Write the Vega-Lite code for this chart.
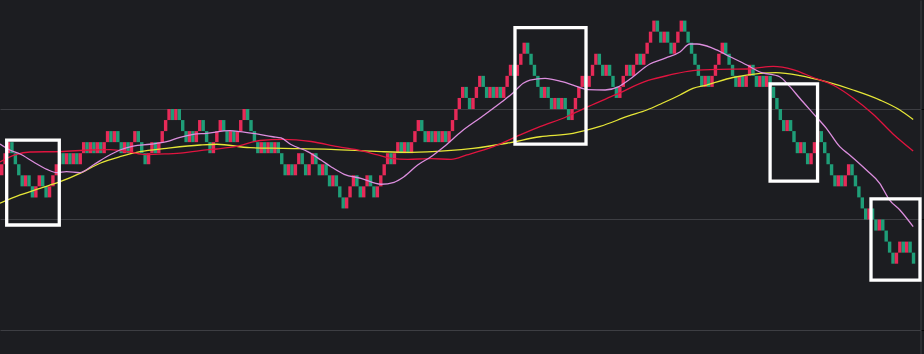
{
"$schema": "https://vega.github.io/schema/vega-lite/v6.json",
"width": 924, "height": 354, "autosize": {"type": "none"}, "padding": 0,
"background": "#1c1d21",
"config": {"view": {"stroke": null}},
"datasets": {
"bricks": [
{"i":0,"lo":14,"hi":15,"d":"R"},{"i":1,"lo":15,"hi":16,"d":"R"},{"i":2,"lo":16,"hi":17,"d":"R"},{"i":3,"lo":16,"hi":17,"d":"G"},{"i":4,"lo":15,"hi":16,"d":"G"},{"i":5,"lo":14,"hi":15,"d":"G"},{"i":6,"lo":13,"hi":14,"d":"G"},{"i":7,"lo":13,"hi":14,"d":"R"},{"i":8,"lo":13,"hi":14,"d":"G"},{"i":9,"lo":12,"hi":13,"d":"G"},
{"i":10,"lo":12,"hi":13,"d":"R"},{"i":11,"lo":13,"hi":14,"d":"R"},{"i":12,"lo":13,"hi":14,"d":"G"},{"i":13,"lo":12,"hi":13,"d":"G"},{"i":14,"lo":12,"hi":13,"d":"R"},{"i":15,"lo":13,"hi":14,"d":"R"},{"i":16,"lo":14,"hi":15,"d":"R"},{"i":17,"lo":15,"hi":16,"d":"R"},{"i":18,"lo":15,"hi":16,"d":"G"},{"i":19,"lo":15,"hi":16,"d":"R"},
{"i":20,"lo":15,"hi":16,"d":"G"},{"i":21,"lo":15,"hi":16,"d":"R"},{"i":22,"lo":15,"hi":16,"d":"G"},{"i":23,"lo":15,"hi":16,"d":"R"},{"i":24,"lo":16,"hi":17,"d":"R"},{"i":25,"lo":16,"hi":17,"d":"G"},{"i":26,"lo":16,"hi":17,"d":"R"},{"i":27,"lo":16,"hi":17,"d":"G"},{"i":28,"lo":16,"hi":17,"d":"R"},{"i":29,"lo":16,"hi":17,"d":"G"},
{"i":30,"lo":16,"hi":17,"d":"R"},{"i":31,"lo":17,"hi":18,"d":"R"},{"i":32,"lo":17,"hi":18,"d":"G"},{"i":33,"lo":17,"hi":18,"d":"R"},{"i":34,"lo":17,"hi":18,"d":"G"},{"i":35,"lo":16,"hi":17,"d":"G"},{"i":36,"lo":16,"hi":17,"d":"R"},{"i":37,"lo":16,"hi":17,"d":"G"},{"i":38,"lo":16,"hi":17,"d":"R"},{"i":39,"lo":17,"hi":18,"d":"R"},
{"i":40,"lo":17,"hi":18,"d":"G"},{"i":41,"lo":16,"hi":17,"d":"G"},{"i":42,"lo":15,"hi":16,"d":"G"},{"i":43,"lo":15,"hi":16,"d":"R"},{"i":44,"lo":16,"hi":17,"d":"R"},{"i":45,"lo":16,"hi":17,"d":"G"},{"i":46,"lo":16,"hi":17,"d":"R"},{"i":47,"lo":17,"hi":18,"d":"R"},{"i":48,"lo":18,"hi":19,"d":"R"},{"i":49,"lo":19,"hi":20,"d":"R"},
{"i":50,"lo":19,"hi":20,"d":"G"},{"i":51,"lo":19,"hi":20,"d":"R"},{"i":52,"lo":19,"hi":20,"d":"G"},{"i":53,"lo":18,"hi":19,"d":"G"},{"i":54,"lo":17,"hi":18,"d":"G"},{"i":55,"lo":17,"hi":18,"d":"R"},{"i":56,"lo":17,"hi":18,"d":"G"},{"i":57,"lo":17,"hi":18,"d":"R"},{"i":58,"lo":18,"hi":19,"d":"R"},{"i":59,"lo":18,"hi":19,"d":"G"},
{"i":60,"lo":17,"hi":18,"d":"G"},{"i":61,"lo":16,"hi":17,"d":"G"},{"i":62,"lo":16,"hi":17,"d":"R"},{"i":63,"lo":17,"hi":18,"d":"R"},{"i":64,"lo":18,"hi":19,"d":"R"},{"i":65,"lo":18,"hi":19,"d":"G"},{"i":66,"lo":17,"hi":18,"d":"G"},{"i":67,"lo":17,"hi":18,"d":"R"},{"i":68,"lo":17,"hi":18,"d":"G"},{"i":69,"lo":17,"hi":18,"d":"R"},
{"i":70,"lo":18,"hi":19,"d":"R"},{"i":71,"lo":19,"hi":20,"d":"R"},{"i":72,"lo":19,"hi":20,"d":"G"},{"i":73,"lo":18,"hi":19,"d":"G"},{"i":74,"lo":17,"hi":18,"d":"G"},{"i":75,"lo":16,"hi":17,"d":"G"},{"i":76,"lo":16,"hi":17,"d":"R"},{"i":77,"lo":16,"hi":17,"d":"G"},{"i":78,"lo":16,"hi":17,"d":"R"},{"i":79,"lo":16,"hi":17,"d":"G"},
{"i":80,"lo":16,"hi":17,"d":"R"},{"i":81,"lo":16,"hi":17,"d":"G"},{"i":82,"lo":15,"hi":16,"d":"G"},{"i":83,"lo":14,"hi":15,"d":"G"},{"i":84,"lo":14,"hi":15,"d":"R"},{"i":85,"lo":14,"hi":15,"d":"G"},{"i":86,"lo":14,"hi":15,"d":"R"},{"i":87,"lo":15,"hi":16,"d":"R"},{"i":88,"lo":15,"hi":16,"d":"G"},{"i":89,"lo":14,"hi":15,"d":"G"},
{"i":90,"lo":14,"hi":15,"d":"R"},{"i":91,"lo":15,"hi":16,"d":"R"},{"i":92,"lo":15,"hi":16,"d":"G"},{"i":93,"lo":14,"hi":15,"d":"G"},{"i":94,"lo":14,"hi":15,"d":"R"},{"i":95,"lo":14,"hi":15,"d":"G"},{"i":96,"lo":13,"hi":14,"d":"G"},{"i":97,"lo":13,"hi":14,"d":"R"},{"i":98,"lo":13,"hi":14,"d":"G"},{"i":99,"lo":12,"hi":13,"d":"G"},
{"i":100,"lo":11,"hi":12,"d":"G"},{"i":101,"lo":11,"hi":12,"d":"R"},{"i":102,"lo":12,"hi":13,"d":"R"},{"i":103,"lo":13,"hi":14,"d":"R"},{"i":104,"lo":13,"hi":14,"d":"G"},{"i":105,"lo":12,"hi":13,"d":"G"},{"i":106,"lo":12,"hi":13,"d":"R"},{"i":107,"lo":13,"hi":14,"d":"R"},{"i":108,"lo":13,"hi":14,"d":"G"},{"i":109,"lo":12,"hi":13,"d":"G"},
{"i":110,"lo":12,"hi":13,"d":"R"},{"i":111,"lo":13,"hi":14,"d":"R"},{"i":112,"lo":14,"hi":15,"d":"R"},{"i":113,"lo":15,"hi":16,"d":"R"},{"i":114,"lo":15,"hi":16,"d":"G"},{"i":115,"lo":15,"hi":16,"d":"R"},{"i":116,"lo":16,"hi":17,"d":"R"},{"i":117,"lo":16,"hi":17,"d":"G"},{"i":118,"lo":16,"hi":17,"d":"R"},{"i":119,"lo":16,"hi":17,"d":"G"},
{"i":120,"lo":16,"hi":17,"d":"R"},{"i":121,"lo":17,"hi":18,"d":"R"},{"i":122,"lo":18,"hi":19,"d":"R"},{"i":123,"lo":18,"hi":19,"d":"G"},{"i":124,"lo":17,"hi":18,"d":"G"},{"i":125,"lo":17,"hi":18,"d":"R"},{"i":126,"lo":17,"hi":18,"d":"G"},{"i":127,"lo":17,"hi":18,"d":"R"},{"i":128,"lo":17,"hi":18,"d":"G"},{"i":129,"lo":17,"hi":18,"d":"R"},
{"i":130,"lo":17,"hi":18,"d":"G"},{"i":131,"lo":17,"hi":18,"d":"R"},{"i":132,"lo":18,"hi":19,"d":"R"},{"i":133,"lo":19,"hi":20,"d":"R"},{"i":134,"lo":20,"hi":21,"d":"R"},{"i":135,"lo":21,"hi":22,"d":"R"},{"i":136,"lo":21,"hi":22,"d":"G"},{"i":137,"lo":20,"hi":21,"d":"G"},{"i":138,"lo":20,"hi":21,"d":"R"},{"i":139,"lo":21,"hi":22,"d":"R"},
{"i":140,"lo":22,"hi":23,"d":"R"},{"i":141,"lo":22,"hi":23,"d":"G"},{"i":142,"lo":21,"hi":22,"d":"G"},{"i":143,"lo":21,"hi":22,"d":"R"},{"i":144,"lo":21,"hi":22,"d":"G"},{"i":145,"lo":21,"hi":22,"d":"R"},{"i":146,"lo":21,"hi":22,"d":"G"},{"i":147,"lo":21,"hi":22,"d":"R"},{"i":148,"lo":22,"hi":23,"d":"R"},{"i":149,"lo":23,"hi":24,"d":"R"},
{"i":150,"lo":23,"hi":24,"d":"G"},{"i":151,"lo":23,"hi":24,"d":"R"},{"i":152,"lo":24,"hi":25,"d":"R"},{"i":153,"lo":25,"hi":26,"d":"R"},{"i":154,"lo":25,"hi":26,"d":"G"},{"i":155,"lo":24,"hi":25,"d":"G"},{"i":156,"lo":23,"hi":24,"d":"G"},{"i":157,"lo":22,"hi":23,"d":"G"},{"i":158,"lo":21,"hi":22,"d":"G"},{"i":159,"lo":21,"hi":22,"d":"R"},
{"i":160,"lo":21,"hi":22,"d":"G"},{"i":161,"lo":20,"hi":21,"d":"G"},{"i":162,"lo":20,"hi":21,"d":"R"},{"i":163,"lo":20,"hi":21,"d":"G"},{"i":164,"lo":20,"hi":21,"d":"R"},{"i":165,"lo":20,"hi":21,"d":"G"},{"i":166,"lo":19,"hi":20,"d":"G"},{"i":167,"lo":19,"hi":20,"d":"R"},{"i":168,"lo":20,"hi":21,"d":"R"},{"i":169,"lo":21,"hi":22,"d":"R"},
{"i":170,"lo":22,"hi":23,"d":"R"},{"i":171,"lo":22,"hi":23,"d":"G"},{"i":172,"lo":22,"hi":23,"d":"R"},{"i":173,"lo":23,"hi":24,"d":"R"},{"i":174,"lo":24,"hi":25,"d":"R"},{"i":175,"lo":24,"hi":25,"d":"G"},{"i":176,"lo":23,"hi":24,"d":"G"},{"i":177,"lo":23,"hi":24,"d":"R"},{"i":178,"lo":23,"hi":24,"d":"G"},{"i":179,"lo":22,"hi":23,"d":"G"},
{"i":180,"lo":21,"hi":22,"d":"G"},{"i":181,"lo":21,"hi":22,"d":"R"},{"i":182,"lo":22,"hi":23,"d":"R"},{"i":183,"lo":23,"hi":24,"d":"R"},{"i":184,"lo":23,"hi":24,"d":"G"},{"i":185,"lo":23,"hi":24,"d":"R"},{"i":186,"lo":24,"hi":25,"d":"R"},{"i":187,"lo":24,"hi":25,"d":"G"},{"i":188,"lo":24,"hi":25,"d":"R"},{"i":189,"lo":25,"hi":26,"d":"R"},
{"i":190,"lo":26,"hi":27,"d":"R"},{"i":191,"lo":27,"hi":28,"d":"R"},{"i":192,"lo":27,"hi":28,"d":"G"},{"i":193,"lo":26,"hi":27,"d":"G"},{"i":194,"lo":26,"hi":27,"d":"R"},{"i":195,"lo":26,"hi":27,"d":"G"},{"i":196,"lo":25,"hi":26,"d":"G"},{"i":197,"lo":25,"hi":26,"d":"R"},{"i":198,"lo":26,"hi":27,"d":"R"},{"i":199,"lo":27,"hi":28,"d":"R"},
{"i":200,"lo":27,"hi":28,"d":"G"},{"i":201,"lo":26,"hi":27,"d":"G"},{"i":202,"lo":25,"hi":26,"d":"G"},{"i":203,"lo":24,"hi":25,"d":"G"},{"i":204,"lo":23,"hi":24,"d":"G"},{"i":205,"lo":22,"hi":23,"d":"G"},{"i":206,"lo":22,"hi":23,"d":"R"},{"i":207,"lo":22,"hi":23,"d":"G"},{"i":208,"lo":22,"hi":23,"d":"R"},{"i":209,"lo":23,"hi":24,"d":"R"},
{"i":210,"lo":24,"hi":25,"d":"R"},{"i":211,"lo":25,"hi":26,"d":"R"},{"i":212,"lo":25,"hi":26,"d":"G"},{"i":213,"lo":24,"hi":25,"d":"G"},{"i":214,"lo":23,"hi":24,"d":"G"},{"i":215,"lo":22,"hi":23,"d":"G"},{"i":216,"lo":22,"hi":23,"d":"R"},{"i":217,"lo":22,"hi":23,"d":"G"},{"i":218,"lo":22,"hi":23,"d":"R"},{"i":219,"lo":23,"hi":24,"d":"R"},
{"i":220,"lo":23,"hi":24,"d":"G"},{"i":221,"lo":22,"hi":23,"d":"G"},{"i":222,"lo":22,"hi":23,"d":"R"},{"i":223,"lo":22,"hi":23,"d":"G"},{"i":224,"lo":22,"hi":23,"d":"R"},{"i":225,"lo":22,"hi":23,"d":"G"},{"i":226,"lo":21,"hi":22,"d":"G"},{"i":227,"lo":20,"hi":21,"d":"G"},{"i":228,"lo":19,"hi":20,"d":"G"},{"i":229,"lo":18,"hi":19,"d":"G"},
{"i":230,"lo":18,"hi":19,"d":"R"},{"i":231,"lo":18,"hi":19,"d":"G"},{"i":232,"lo":17,"hi":18,"d":"G"},{"i":233,"lo":16,"hi":17,"d":"G"},{"i":234,"lo":16,"hi":17,"d":"R"},{"i":235,"lo":16,"hi":17,"d":"G"},{"i":236,"lo":15,"hi":16,"d":"G"},{"i":237,"lo":15,"hi":16,"d":"R"},{"i":238,"lo":16,"hi":17,"d":"R"},{"i":239,"lo":17,"hi":18,"d":"R"},
{"i":240,"lo":17,"hi":18,"d":"G"},{"i":241,"lo":16,"hi":17,"d":"G"},{"i":242,"lo":15,"hi":16,"d":"G"},{"i":243,"lo":14,"hi":15,"d":"G"},{"i":244,"lo":13,"hi":14,"d":"G"},{"i":245,"lo":13,"hi":14,"d":"R"},{"i":246,"lo":13,"hi":14,"d":"G"},{"i":247,"lo":13,"hi":14,"d":"R"},{"i":248,"lo":14,"hi":15,"d":"R"},{"i":249,"lo":14,"hi":15,"d":"G"},
{"i":250,"lo":13,"hi":14,"d":"G"},{"i":251,"lo":12,"hi":13,"d":"G"},{"i":252,"lo":11,"hi":12,"d":"G"},{"i":253,"lo":10,"hi":11,"d":"G"},{"i":254,"lo":10,"hi":11,"d":"R"},{"i":255,"lo":10,"hi":11,"d":"G"},{"i":256,"lo":9,"hi":10,"d":"G"},{"i":257,"lo":9,"hi":10,"d":"R"},{"i":258,"lo":9,"hi":10,"d":"G"},{"i":259,"lo":8,"hi":9,"d":"G"},
{"i":260,"lo":7,"hi":8,"d":"G"},{"i":261,"lo":6,"hi":7,"d":"G"},{"i":262,"lo":6,"hi":7,"d":"R"},{"i":263,"lo":7,"hi":8,"d":"R"},{"i":264,"lo":7,"hi":8,"d":"G"},{"i":265,"lo":7,"hi":8,"d":"R"},{"i":266,"lo":7,"hi":8,"d":"G"},{"i":267,"lo":6,"hi":7,"d":"G"}
],
"ma": [
{"s":"y","i":-0.5,"v":11.47},{"s":"y","i":5.4,"v":12.22},{"s":"y","i":11.2,"v":12.82},{"s":"y","i":17.1,"v":13.42},{"s":"y","i":22.9,"v":14.18},{"s":"y","i":28.8,"v":15.09},{"s":"y","i":34.6,"v":15.68},{"s":"y","i":40.5,"v":16.14},{"s":"y","i":48.3,"v":16.44},{"s":"y","i":58.1,"v":16.74},{"s":"y","i":63.0,"v":16.81},{"s":"y","i":72.7,"v":16.5},{"s":"y","i":82.4,"v":16.44},{"s":"y","i":96.4,"v":16.35},{"s":"y","i":111.1,"v":16.14},{"s":"y","i":119.9,"v":16.08},{"s":"y","i":130.6,"v":16.23},{"s":"y","i":138.0,"v":16.44},{"s":"y","i":147.9,"v":16.9},{"s":"y","i":157.6,"v":17.49},{"s":"y","i":167.3,"v":17.8},{"s":"y","i":175.2,"v":18.42},{"s":"y","i":183.6,"v":19.37},{"s":"y","i":188.9,"v":19.91},{"s":"y","i":193.4,"v":20.52},{"s":"y","i":198.6,"v":21.27},{"s":"y","i":202.4,"v":21.87},{"s":"y","i":206.4,"v":22.17},{"s":"y","i":214.1,"v":22.85},{"s":"y","i":222.1,"v":23.23},{"s":"y","i":226.7,"v":23.3},{"s":"y","i":233.8,"v":23.03},{"s":"y","i":241.4,"v":22.47},{"s":"y","i":249.3,"v":21.72},{"s":"y","i":257.2,"v":20.81},{"s":"y","i":263.0,"v":19.91},{"s":"y","i":266.9,"v":19.05},
{"s":"r","i":-0.5,"v":15.2},{"s":"r","i":3.9,"v":15.84},{"s":"r","i":8.3,"v":16.11},{"s":"r","i":17.1,"v":16.15},{"s":"r","i":25.9,"v":16.29},{"s":"r","i":31.7,"v":16.33},{"s":"r","i":37.6,"v":16.11},{"s":"r","i":42.0,"v":15.88},{"s":"r","i":47.8,"v":15.93},{"s":"r","i":53.1,"v":16.02},{"s":"r","i":58.1,"v":16.24},{"s":"r","i":63.0,"v":16.38},{"s":"r","i":68.8,"v":16.61},{"s":"r","i":75.6,"v":17.15},{"s":"r","i":82.4,"v":17.26},{"s":"r","i":90.6,"v":17.06},{"s":"r","i":98.4,"v":16.59},{"s":"r","i":105.2,"v":16.23},{"s":"r","i":110.1,"v":15.84},{"s":"r","i":114.0,"v":15.54},{"s":"r","i":118.9,"v":15.45},{"s":"r","i":125.7,"v":15.5},{"s":"r","i":131.6,"v":15.45},{"s":"r","i":136.2,"v":15.84},{"s":"r","i":144.0,"v":16.59},{"s":"r","i":151.8,"v":17.65},{"s":"r","i":157.6,"v":18.4},{"s":"r","i":165.4,"v":19.3},{"s":"r","i":171.7,"v":20.21},{"s":"r","i":179.6,"v":21.27},{"s":"r","i":189.3,"v":22.58},{"s":"r","i":195.7,"v":23.08},{"s":"r","i":202.4,"v":23.48},{"s":"r","i":210.3,"v":23.59},{"s":"r","i":218.2,"v":23.62},{"s":"r","i":225.9,"v":23.86},{"s":"r","i":231.7,"v":23.57},{"s":"r","i":237.6,"v":22.85},{"s":"r","i":243.4,"v":22.17},{"s":"r","i":249.3,"v":21.0},{"s":"r","i":255.1,"v":19.55},{"s":"r","i":261.0,"v":17.74},{"s":"r","i":266.9,"v":16.2},
{"s":"p","i":-0.5,"v":16.83},{"s":"p","i":2.4,"v":16.29},{"s":"p","i":5.4,"v":15.93},{"s":"p","i":9.2,"v":15.23},{"s":"p","i":13.2,"v":14.54},{"s":"p","i":16.1,"v":14.24},{"s":"p","i":19.0,"v":14.33},{"s":"p","i":22.9,"v":14.24},{"s":"p","i":26.8,"v":14.93},{"s":"p","i":30.7,"v":15.68},{"s":"p","i":34.6,"v":16.29},{"s":"p","i":38.5,"v":16.65},{"s":"p","i":43.4,"v":16.81},{"s":"p","i":48.3,"v":17.04},{"s":"p","i":52.2,"v":17.44},{"s":"p","i":56.1,"v":17.71},{"s":"p","i":60.0,"v":17.8},{"s":"p","i":66.8,"v":18.04},{"s":"p","i":69.8,"v":17.96},{"s":"p","i":73.6,"v":17.8},{"s":"p","i":79.4,"v":17.49},{"s":"p","i":81.8,"v":17.38},{"s":"p","i":84.7,"v":16.79},{"s":"p","i":89.6,"v":16.14},{"s":"p","i":93.5,"v":15.38},{"s":"p","i":96.4,"v":14.78},{"s":"p","i":100.3,"v":14.09},{"s":"p","i":105.2,"v":13.73},{"s":"p","i":111.1,"v":13.19},{"s":"p","i":114.9,"v":13.37},{"s":"p","i":117.8,"v":13.87},{"s":"p","i":121.8,"v":14.93},{"s":"p","i":125.7,"v":15.68},{"s":"p","i":129.5,"v":16.59},{"s":"p","i":134.8,"v":18.01},{"s":"p","i":140.6,"v":19.3},{"s":"p","i":145.9,"v":20.52},{"s":"p","i":149.7,"v":21.45},{"s":"p","i":152.7,"v":22.33},{"s":"p","i":154.7,"v":22.62},{"s":"p","i":159.1,"v":22.78},{"s":"p","i":164.1,"v":22.47},{"s":"p","i":167.3,"v":22.17},{"s":"p","i":171.7,"v":21.76},{"s":"p","i":176.7,"v":21.72},{"s":"p","i":180.7,"v":22.02},{"s":"p","i":184.0,"v":22.71},{"s":"p","i":189.8,"v":24.07},{"s":"p","i":194.5,"v":24.62},{"s":"p","i":198.6,"v":25.16},{"s":"p","i":201.5,"v":25.88},{"s":"p","i":203.6,"v":25.88},{"s":"p","i":208.3,"v":25.49},{"s":"p","i":213.3,"v":24.73},{"s":"p","i":218.2,"v":23.98},{"s":"p","i":222.0,"v":23.35},{"s":"p","i":227.8,"v":22.92},{"s":"p","i":230.8,"v":22.02},{"s":"p","i":233.7,"v":20.97},{"s":"p","i":237.6,"v":19.61},{"s":"p","i":241.5,"v":18.25},{"s":"p","i":245.4,"v":16.59},{"s":"p","i":248.3,"v":15.84},{"s":"p","i":253.2,"v":14.48},{"s":"p","i":257.1,"v":13.28},{"s":"p","i":260.0,"v":11.76},{"s":"p","i":263.0,"v":10.86},{"s":"p","i":266.9,"v":9.35}
],
"boxes": [
{"x1":1.46,"x2":16.86,"y1":17.19,"y2":9.5},
{"x1":150.3,"x2":171.1,"y1":27.36,"y2":16.83},
{"x1":225.0,"x2":238.9,"y1":22.28,"y2":13.48},
{"x1":254.55,"x2":268.9,"y1":11.86,"y2":4.52}
]
},
"layer": [
{
"data": {"name": "bricks"},
"mark": {"type": "bar", "width": 3.42},
"encoding": {
"x": {"field": "i", "type": "quantitative", "scale": {"domain": [-0.5, 270.07], "nice": false, "zero": false, "padding": 0}, "axis": null},
"y": {"field": "lo", "type": "quantitative", "scale": {"domain": [-2.172, 29.864], "nice": false, "zero": false, "padding": 0},
"axis": {"orient": "right", "offset": -3.5, "values": [0, 10, 20], "grid": true, "gridColor": "#3d3e43", "gridWidth": 1, "labels": false, "ticks": true, "tickColor": "#050505", "tickSize": 4, "domain": true, "domainColor": "#3d3e43", "title": null}},
"y2": {"field": "hi"},
"fill": {"field": "d", "type": "nominal", "scale": {"domain": ["R", "G"], "range": ["#e62a58", "#1f9e78"]}, "legend": null}
}
},
{
"data": {"name": "ma"},
"mark": {"type": "line", "strokeWidth": 1.3, "interpolate": "monotone", "clip": true},
"encoding": {
"x": {"field": "i", "type": "quantitative"},
"y": {"field": "v", "type": "quantitative"},
"stroke": {"field": "s", "type": "nominal", "scale": {"domain": ["y", "r", "p"], "range": ["#e6e637", "#e0143f", "#dc8ede"]}, "legend": null}
}
},
{
"data": {"name": "boxes"},
"mark": {"type": "rect", "fill": null, "stroke": "#ffffff", "strokeWidth": 3.3},
"encoding": {
"x": {"field": "x1", "type": "quantitative"},
"x2": {"field": "x2"},
"y": {"field": "y1", "type": "quantitative"},
"y2": {"field": "y2"}
}
}
]
}
